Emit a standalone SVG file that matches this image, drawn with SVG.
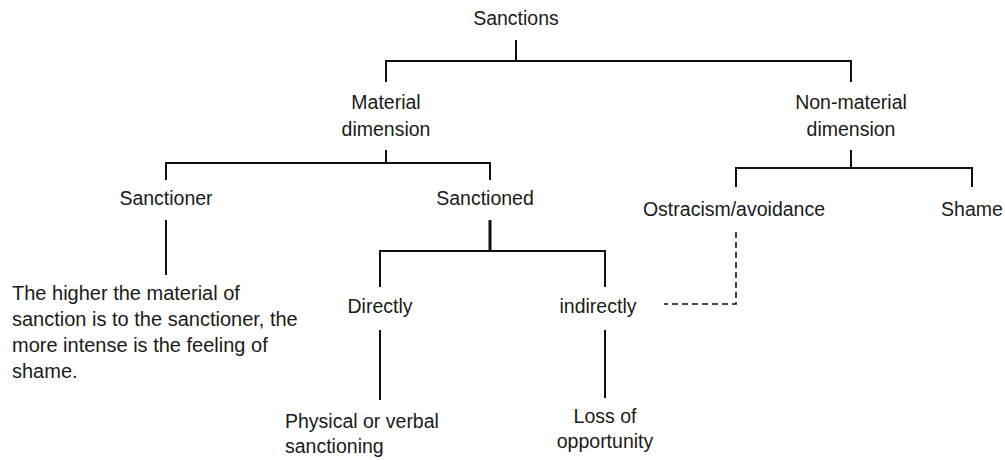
<svg xmlns="http://www.w3.org/2000/svg" width="1005" height="460" viewBox="0 0 1005 460">
<style>
text{font-family:"Liberation Sans",Arial,sans-serif;font-size:19.5px;fill:#1a1a1a}
.c{text-anchor:middle}
.p{font-size:20px}
.ln{stroke:#111;stroke-width:2;fill:none}
.dash{stroke:#111;stroke-width:1.6;fill:none;stroke-dasharray:6 4}
</style>
<rect width="1005" height="460" fill="#fff"/>
<g id="connectors">
<path class="ln" d="M516 40V61M386 82V61H851V82"/>
<path class="ln" d="M386 150V163M166 180V163H490V180"/>
<path class="ln" d="M166 220V275"/>
<path class="ln" d="M380 287V251H605V287"/>
<path class="ln" d="M490 220V251" style="stroke-width:3"/>
<path class="ln" d="M380 330V400M605 330V398"/>
<path class="ln" d="M851 150V168M736 187V168H972V187"/>
<path class="dash" d="M736 232V304H664"/>
</g>
<g id="sanctions"><text class="c" x="516" y="25">Sanctions</text></g>
<g id="material"><text class="c" x="386" y="109">Material</text><text class="c" x="386" y="136">dimension</text></g>
<g id="nonmaterial"><text class="c" x="851" y="109">Non-material</text><text class="c" x="851" y="136">dimension</text></g>
<g id="sanctioner"><text class="c" x="166" y="205">Sanctioner</text></g>
<g id="sanctioned"><text class="c" x="485" y="205">Sanctioned</text></g>
<g id="ostracism"><text class="c" x="734" y="216">Ostracism/avoidance</text></g>
<g id="shame"><text class="c" x="972" y="216">Shame</text></g>
<g id="directly"><text class="c" x="380" y="313">Directly</text></g>
<g id="indirectly"><text class="c" x="598" y="313">indirectly</text></g>
<g id="note"><text class="p" x="12" y="300">The higher the material of</text><text class="p" x="12" y="326">sanction is to the sanctioner, the</text><text class="p" x="12" y="352">more intense is the feeling of</text><text class="p" x="12" y="378">shame.</text></g>
<g id="physical"><text x="285" y="428">Physical or verbal</text><text x="285" y="453">sanctioning</text></g>
<g id="loss"><text class="c" x="605" y="423">Loss of</text><text class="c" x="605" y="448">opportunity</text></g>
</svg>
